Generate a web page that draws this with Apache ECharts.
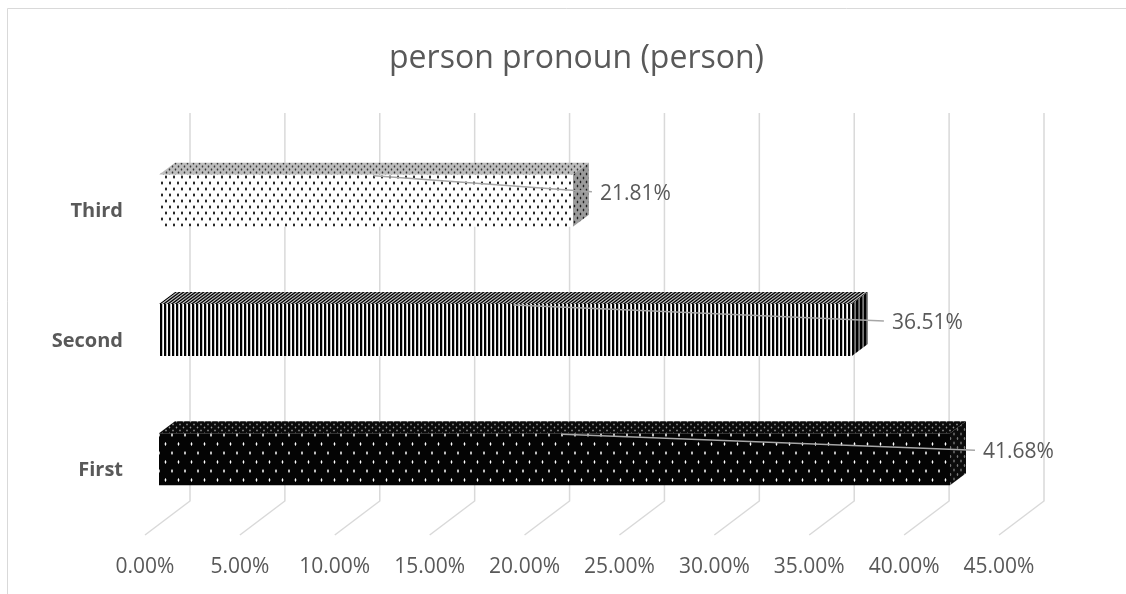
<!DOCTYPE html>
<html>
<head>
<meta charset="utf-8">
<script src="https://cdn.jsdelivr.net/npm/echarts@6/dist/echarts.min.js"></script>
<style>
html,body{margin:0;padding:0;background:#fff;}
#chart{width:1126px;height:594px;}
</style>
</head>
<body>
<div id="chart"></div>
<script>
// ---- data ----
const categories = ['First', 'Second', 'Third'];
const values = [41.68, 36.51, 21.81];
const xTicks = [0, 5, 10, 15, 20, 25, 30, 35, 40, 45];
const titleText = 'person pronoun (person)';

// ---- style constants (3D projection / label placement) ----
const WALL_DX = 45, WALL_DY = -34;     // floor front -> back wall
const BAR_DX = 14, BAR_DY = -11;       // floor front -> bar front face
const DEPTH_DX = 16, DEPTH_DY = -12;   // bar front -> bar back
const FACE_HALF = 26;
const LABEL_DX = [33, 40, 27];
const LABEL_DY = -18;
const TEXT = '#595959';
const FONT = '"Open Sans", "Noto Sans", sans-serif';

// ---- pattern tiles ----
function makeTile(w, h, fn) {
  const c = document.createElement('canvas');
  c.width = w; c.height = h;
  const ctx = c.getContext('2d');
  const img = ctx.createImageData(w, h);
  const S = 4;
  for (let y = 0; y < h; y++) {
    for (let x = 0; x < w; x++) {
      let r = 0, g = 0, b = 0;
      for (let j = 0; j < S; j++) for (let i = 0; i < S; i++) {
        const col = fn(x + (i + 0.5) / S, y + (j + 0.5) / S);
        r += col[0]; g += col[1]; b += col[2];
      }
      const k = (y * w + x) * 4;
      img.data[k] = r / (S * S); img.data[k + 1] = g / (S * S); img.data[k + 2] = b / (S * S); img.data[k + 3] = 255;
    }
  }
  ctx.putImageData(img, 0, 0);
  return c;
}
function wrap(d, p) { d = ((d % p) + p) % p; return d > p / 2 ? d - p : d; }
function dots(w, h, bg, fg, list) {
  return makeTile(w, h, (x, y) => {
    for (const d of list) {
      const dx = wrap(x - d[0], w) / d[2], dy = wrap(y - d[1], h) / d[3];
      if (dx * dx + dy * dy <= 1) return fg;
    }
    return bg;
  });
}
function stripes(w, h, on, off, shear, duty) {
  return makeTile(w, h, (x, y) => {
    const u = ((x + shear * y) % 4 + 4) % 4;
    return u < duty ? on : off;
  });
}
function pat(c) { return { image: c, repeat: 'repeat' }; }

const P = [
  { // First
    front: pat(dots(13, 18, [4, 4, 4], [255, 255, 255], [[3, 3, 0.75, 1.8], [9.5, 12, 0.75, 1.8]])),
    top: pat(dots(7, 6, [10, 10, 10], [150, 150, 150], [[1.5, 1.5, 0.7, 1.0], [5, 4.5, 0.7, 1.0]])),
    side: pat(dots(7, 9, [12, 12, 12], [120, 120, 120], [[2, 2, 0.7, 1.4], [5.5, 6.5, 0.7, 1.4]]))
  },
  { // Second
    front: pat(stripes(4, 1, [0, 0, 0], [255, 255, 255], 0, 2.3)),
    top: pat(stripes(4, 3, [0, 0, 0], [205, 205, 205], 4 / 3, 2.2)),
    side: pat(stripes(4, 1, [0, 0, 0], [120, 120, 120], 0, 2.2))
  },
  { // Third
    front: pat(dots(8, 12, [255, 255, 255], [10, 10, 10], [[2, 3, 0.95, 1.6], [6, 9, 0.95, 1.6]])),
    top: pat(dots(6, 6, [190, 190, 190], [55, 55, 55], [[1.5, 1.5, 0.8, 1.1], [4.5, 4.5, 0.8, 1.1]])),
    side: pat(dots(6, 8, [155, 155, 155], [30, 30, 30], [[1.5, 2, 0.8, 1.3], [4.5, 6, 0.8, 1.3]]))
  }
];

const chart = echarts.init(document.getElementById('chart'));
const option = {
  backgroundColor: '#ffffff',
  animation: false,
  title: {
    text: titleText,
    left: 384,
    top: 38,
    textStyle: { fontFamily: FONT, fontSize: 32, fontWeight: 'normal', color: TEXT }
  },
  graphic: [
    { type: 'line', shape: { x1: 7.5, y1: 8.5, x2: 1126, y2: 8.5 }, style: { stroke: '#d9d9d9', lineWidth: 1 }, silent: true },
    { type: 'line', shape: { x1: 7.5, y1: 8.5, x2: 7.5, y2: 594 }, style: { stroke: '#d9d9d9', lineWidth: 1 }, silent: true }
  ],
  grid: { left: 145, top: 147, width: 854, height: 388, containLabel: false },
  xAxis: {
    type: 'value', min: 0, max: 45, interval: 5,
    axisLine: { show: false }, axisTick: { show: false }, splitLine: { show: false },
    axisLabel: {
      margin: 22, color: TEXT, fontFamily: FONT, fontSize: 21,
      formatter: v => v.toFixed(2) + '%'
    }
  },
  yAxis: {
    type: 'category', data: categories,
    axisLine: { show: false }, axisTick: { show: false }, splitLine: { show: false },
    axisLabel: { margin: 22, color: TEXT, fontFamily: FONT, fontSize: 20, fontWeight: 'bold', padding: [4, 0, 0, 0] }
  },
  series: [
    {
      type: 'custom', name: 'grid3d', z: 1, silent: true,
      encode: { x: 0, y: 1 },
      data: xTicks.map(v => [v, 0]),
      renderItem: function (params, api) {
        const v = api.value(0);
        const p = api.coord([v, 0]);
        const band = api.size([0, 1])[1];
        const bottom = p[1] + band / 2;
        const top = api.coord([v, categories.length - 1])[1] - band / 2;
        const bx = p[0] + WALL_DX;
        return {
          type: 'polyline',
          shape: { points: [[bx, top + WALL_DY], [bx, bottom + WALL_DY], [p[0], bottom]] },
          style: { stroke: '#d9d9d9', lineWidth: 1.5, fill: null }
        };
      }
    },
    {
      type: 'custom', name: 'bars', z: 2, silent: true,
      encode: { x: 0, y: 1 },
      data: values.map((v, i) => [v, i]),
      renderItem: function (params, api) {
        const v = api.value(0), ci = api.value(1);
        const p0 = api.coord([0, ci]);
        const p1 = api.coord([v, ci]);
        const x0 = p0[0] + BAR_DX, x1 = p1[0] + BAR_DX;
        const cy = p0[1] + BAR_DY;
        const t = cy - FACE_HALF, b = cy + FACE_HALF;
        const pt = P[ci];
        const lx = x1 + LABEL_DX[ci];
        const ly = p0[1] + LABEL_DY;
        const mx = (x0 + x1) / 2 + DEPTH_DX / 2;
        return {
          type: 'group',
          children: [
            { type: 'polygon', shape: { points: [[x0, t], [x1, t], [x1 + DEPTH_DX, t + DEPTH_DY], [x0 + DEPTH_DX, t + DEPTH_DY]] }, style: { fill: pt.top } },
            { type: 'polygon', shape: { points: [[x1, t], [x1 + DEPTH_DX, t + DEPTH_DY], [x1 + DEPTH_DX, b + DEPTH_DY], [x1, b]] }, style: { fill: pt.side } },
            { type: 'rect', shape: { x: x0, y: t, width: x1 - x0, height: b - t }, style: { fill: pt.front } },
            { type: 'line', shape: { x1: mx, y1: t + 1, x2: lx - 8, y2: ly - 2 }, style: { stroke: '#a6a6a6', lineWidth: 1.5 } },
            { type: 'text', style: { text: v.toFixed(2) + '%', x: lx, y: ly, fill: TEXT, font: '21px ' + FONT, verticalAlign: 'middle', align: 'left' } }
          ]
        };
      }
    }
  ]
};
chart.setOption(option);
</script>
</body>
</html>
